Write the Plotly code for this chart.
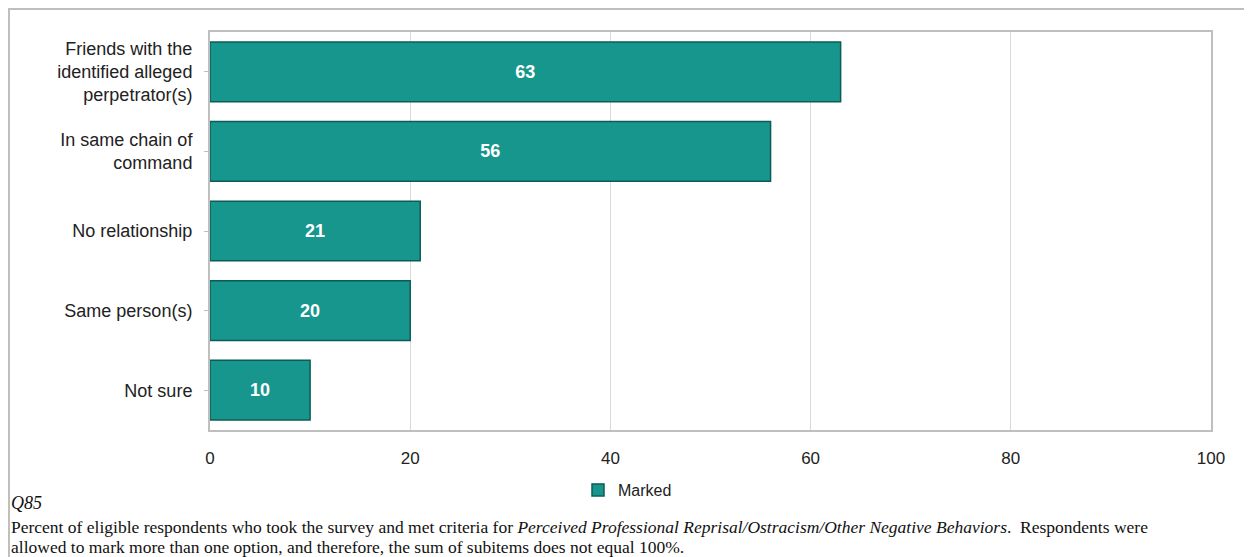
import plotly.graph_objects as go

categories = ["Friends with the<br>identified alleged<br>perpetrator(s)",
              "In same chain of<br>command",
              "No relationship",
              "Same person(s)",
              "Not sure"]
values = [63, 56, 21, 20, 10]
series_name = "Marked"
x_ticks = [0, 20, 40, 60, 80, 100]

# page has an 8px body margin; work in reference pixel coordinates
OFF = 8
W, H = 1252 - OFF, 557 - OFF
L, T = 210 - OFF, 32 - OFF
R = W - (1211 - OFF)
B = H - (430 - OFF)
pw, ph = W - L - R, H - T - B


def px_x(px):
    return (px - OFF - L) / pw


def px_y(py):
    return (H - B - (py - OFF)) / ph


fig = go.Figure()
fig.add_trace(go.Bar(
    y=categories, x=values, orientation="h", name=series_name,
    marker=dict(color="#17968e", line=dict(color="#0b5c57", width=1.5)),
    text=[str(v) for v in values], textposition="inside", insidetextanchor="middle",
    textfont=dict(color="white", size=18, family="Liberation Sans, Arial", weight="bold"),
    showlegend=True,
))

fig.update_layout(
    width=W, height=H,
    margin=dict(l=L, r=R, t=T, b=B, autoexpand=False),
    paper_bgcolor="white", plot_bgcolor="white",
    bargap=0.25,
    font=dict(family="Liberation Sans, Arial", size=17, color="#222"),
    xaxis=dict(range=[0, 100], tickvals=x_ticks, showgrid=True, gridcolor="#d9d9d9",
               gridwidth=1, zeroline=False, showline=True, linecolor="#bfbfbf", linewidth=2,
               mirror=True, ticks="", tickfont=dict(size=17, color="#222"), ticklabelstandoff=12),
    yaxis=dict(categoryorder="array", categoryarray=categories[::-1], autorange=True,
               showline=True, linecolor="#bfbfbf", linewidth=2, mirror=True,
               ticks="outside", ticklen=4, tickcolor="#bfbfbf", ticklabelstandoff=8,
               tickfont=dict(size=18, color="#222"), showgrid=False),
    legend=dict(orientation="h", x=px_x(578), y=px_y(490), xanchor="left", yanchor="middle",
                font=dict(size=16, color="#222"), bgcolor="rgba(0,0,0,0)"),
    shapes=[dict(type="rect", xref="paper", yref="paper",
                 x0=px_x(9), x1=px_x(1250), y0=px_y(570), y1=px_y(9),
                 line=dict(color="#bfbfbf", width=2), layer="below")],
)

serif = "Liberation Serif, Times New Roman"
fig.add_annotation(text="<i>Q85</i>", xref="paper", yref="paper", x=px_x(9), y=px_y(503),
                   xanchor="left", yanchor="middle", showarrow=False,
                   font=dict(family=serif, size=18, color="#111"))
fig.add_annotation(text="Percent of eligible respondents who took the survey and met criteria for "
                        "<i>Perceived Professional Reprisal/Ostracism/Other Negative Behaviors</i>.  "
                        "Respondents were",
                   xref="paper", yref="paper", x=px_x(9), y=px_y(527),
                   xanchor="left", yanchor="middle", showarrow=False,
                   font=dict(family=serif, size=17.5, color="#111"))
fig.add_annotation(text="allowed to mark more than one option, and therefore, the sum of subitems does not equal 100%.",
                   xref="paper", yref="paper", x=px_x(9), y=px_y(547),
                   xanchor="left", yanchor="middle", showarrow=False,
                   font=dict(family=serif, size=17.5, color="#111"))

fig.write_html("out.html")
